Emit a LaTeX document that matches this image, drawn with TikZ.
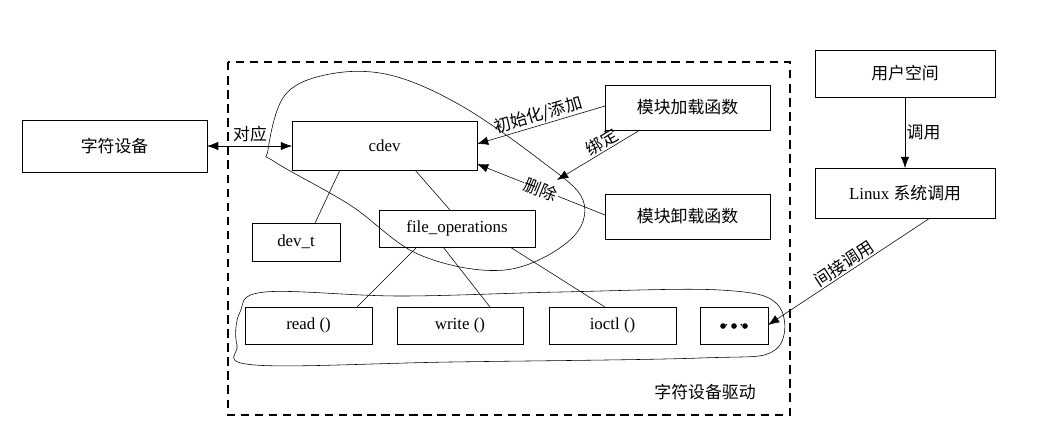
\documentclass[tikz,border=0pt]{standalone}
\usepackage{fontspec}
\setmainfont{Liberation Serif}
\newfontfamily\cjk{Noto Sans CJK SC}
\usetikzlibrary{arrows.meta}
\begin{document}
\begin{tikzpicture}[x=0.025cm,y=-0.025cm,font=\large,
  lbl/.style={font=\cjk\large,inner sep=1pt},
  arr/.style={-{Latex[length=8pt,width=6pt]}}]
\useasboundingbox (0,0) rectangle (1037,437);
\draw[dash pattern=on 6pt off 4pt,line width=0.9pt] (228,62) rectangle (790,415);
% boxes
\draw (22,120) rectangle (207,172) node[midway,font=\cjk\large] (dev) {字符设备};
\coordinate (devE) at (207,146);
\draw (292,121) rectangle (477,170) node[midway] (cdev) {cdev};
\coordinate (cdevW) at (292,146);
\draw (252,223) rectangle (340,261) node[midway] (devt) {dev\_t};
\draw (379,210) rectangle (535,247) node[midway] (fops) {file\_operations};
\draw (245,307) rectangle (372,344) node[midway] (rd) {read ()};
\draw (397,307) rectangle (523,344) node[midway] (wr) {write ()};
\draw (549,307) rectangle (676,344) node[midway] (io) {ioctl ()};
\draw (700,307) rectangle (768,344) node[midway] (etc) {\textbf{$\cdots$}};
\fill (723,326) circle (2pt) (734,326) circle (2pt) (745,326) circle (2pt);
\draw (605,85) rectangle (770,130) node[midway,font=\cjk\large] (load) {模块加载函数};
\draw (605,194) rectangle (770,239) node[midway,font=\cjk\large] (unld) {模块卸载函数};
\draw (815,50) rectangle (995,97) node[midway,font=\cjk\large] (user) {用户空间};
\draw (815,168) rectangle (995,218) node[midway] (sys) {Linux {\cjk 系统调用}};
% arrows
\draw[{Latex[length=8pt,width=6pt]}-{Latex[length=8pt,width=6pt]}] (devE) -- (cdevW);
\node[lbl] at (250,134) {对应};
\draw[arr] (605,106) -- node[lbl,sloped,above] {初始化/添加} (477,144);
\draw[arr] (640,130) -- node[lbl,sloped,above,pos=0.4] {绑定} (557,180);
\draw[arr] (605,215) -- node[lbl,sloped,fill=white] {删除} (477,164);
\draw[arr] (905,97) -- node[lbl,right] {调用} (905,168);
\draw[arr] (930,218) -- node[lbl,sloped,above] {间接调用} (768,325);
% lines
\draw (340,170) -- (315,223);
\draw (415,170) -- (450,210);
\draw (417,247) -- (357,307);
\draw (443,247) -- (490,307);
\draw (510,247) -- (605,307);
% curves
\draw plot[smooth cycle,tension=0.6] coordinates {(268,150) (285,95) (330,74) (390,75) (460,105) (540,160) (583,200) (570,240) (505,270) (420,255) (350,205) (275,162)};
\draw plot[smooth cycle,tension=0.6] coordinates {(240,312) (265,292) (400,296) (560,292) (720,290) (778,305) (775,350) (700,358) (450,362) (255,365) (237,345)};
\node[font=\cjk\large] at (705,392) {字符设备驱动};
\end{tikzpicture}
\end{document}
